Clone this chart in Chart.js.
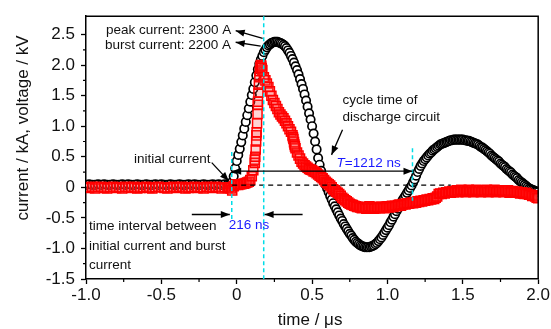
<!DOCTYPE html>
<html>
<head>
<meta charset="utf-8">
<script src="https://cdn.jsdelivr.net/npm/chart.js@4.4.0/dist/chart.umd.min.js"></script>
<style>
  html, body { margin: 0; padding: 0; background: #fff; }
  #wrap { width: 551px; height: 329px; }
</style>
</head>
<body>
<div id="wrap"><canvas id="chart" width="551" height="329"></canvas></div>
<script>
// time grid (µs): coarse on the flat pre-trigger part, fine after the trigger
function grid(start, step, n) {
  return Array.from({ length: n }, (_, i) => +(start + i * step).toFixed(3));
}
const timeBase = grid(-1.0, 0.02, 48);
const timeFine = grid(-0.05, 0.01, 206);

// discharge current / kA (black circles)
const currentBase = [
  0.04, 0.05, 0.04, 0.04, 0.05, 0.04, 0.05, 0.04, 0.04, 0.05,
  0.04, 0.04, 0.05, 0.04, 0.05, 0.04, 0.04, 0.05, 0.04, 0.04,
  0.05, 0.04, 0.04, 0.05, 0.04, 0.05, 0.04, 0.04, 0.05, 0.04,
  0.04, 0.05, 0.04, 0.04, 0.05, 0.04, 0.05, 0.04, 0.04, 0.05,
  0.04, 0.04, 0.05, 0.04, 0.05, 0.04, 0.05, 0.05,
];
const currentFine = [
  0.05, 0.06, 0.09, 0.18, 0.31, 0.43, 0.53, 0.63, 0.74, 0.85,
  0.96, 1.07, 1.18, 1.29, 1.40, 1.51, 1.61, 1.72, 1.83, 1.93,
  2.02, 2.09, 2.15, 2.21, 2.25, 2.29, 2.32, 2.34, 2.36, 2.37,
  2.38, 2.38, 2.38, 2.37, 2.36, 2.35, 2.33, 2.31, 2.28, 2.24,
  2.20, 2.15, 2.10, 2.04, 1.98, 1.92, 1.85, 1.77, 1.69, 1.61,
  1.52, 1.42, 1.32, 1.21, 1.11, 1.00, 0.88, 0.75, 0.62, 0.48,
  0.37, 0.27, 0.18, 0.10, 0.04, -0.02, -0.08, -0.14, -0.20, -0.26,
  -0.31, -0.36, -0.41, -0.46, -0.51, -0.55, -0.60, -0.64, -0.68, -0.72,
  -0.76, -0.79, -0.83, -0.86, -0.89, -0.91, -0.93, -0.95, -0.96, -0.97,
  -0.98, -0.98, -0.98, -0.98, -0.97, -0.96, -0.95, -0.93, -0.91, -0.88,
  -0.85, -0.82, -0.78, -0.74, -0.70, -0.66, -0.62, -0.57, -0.53, -0.48,
  -0.44, -0.39, -0.35, -0.30, -0.26, -0.21, -0.17, -0.13, -0.09, -0.05,
  -0.01, 0.03, 0.08, 0.13, 0.19, 0.25, 0.30, 0.35, 0.39, 0.43,
  0.46, 0.49, 0.52, 0.55, 0.57, 0.60, 0.62, 0.64, 0.66, 0.68,
  0.70, 0.71, 0.72, 0.73, 0.74, 0.75, 0.76, 0.77, 0.77, 0.78,
  0.78, 0.78, 0.78, 0.78, 0.78, 0.78, 0.77, 0.77, 0.76, 0.76,
  0.75, 0.74, 0.73, 0.72, 0.71, 0.70, 0.68, 0.66, 0.65, 0.63,
  0.61, 0.59, 0.57, 0.55, 0.52, 0.50, 0.48, 0.46, 0.44, 0.42,
  0.39, 0.37, 0.35, 0.33, 0.30, 0.28, 0.26, 0.24, 0.21, 0.19,
  0.17, 0.15, 0.12, 0.10, 0.08, 0.06, 0.04, 0.02, 0.00, -0.02,
  -0.03, -0.04, -0.05, -0.06, -0.07, -0.08,
];

// voltage / kV (red squares)
const voltageBase = [
  0.00, -0.01, 0.01, -0.02, 0.00, 0.01, -0.01, -0.02, 0.00, 0.01,
  -0.01, 0.00, -0.02, 0.01, 0.00, -0.01, 0.01, -0.02, -0.01, 0.00,
  0.01, -0.01, -0.02, 0.00, 0.01, 0.00, -0.01, -0.02, 0.00, 0.01,
  -0.01, 0.00, 0.01, -0.02, -0.01, 0.00, 0.01, -0.01, 0.00, -0.02,
  0.01, 0.00, -0.01, 0.01, 0.00, -0.02, 0.00, -0.01,
];
const voltageFine = [
  0.00, -0.02, -0.05, 0.02, 0.04, 0.05, 0.04, 0.05, 0.05, 0.06,
  0.06, 0.07, 0.08, 0.09, 0.12, 0.18, 0.28, 0.45, 0.85, 1.35,
  1.80, 2.00, 1.92, 1.80, 1.75, 1.70, 1.64, 1.57, 1.50, 1.43,
  1.38, 1.33, 1.28, 1.23, 1.19, 1.16, 1.13, 1.09, 1.05, 1.00,
  0.95, 0.91, 0.85, 0.74, 0.64, 0.57, 0.52, 0.47, 0.42, 0.39,
  0.36, 0.34, 0.32, 0.30, 0.29, 0.28, 0.26, 0.25, 0.23, 0.21,
  0.19, 0.17, 0.15, 0.12, 0.09, 0.07, 0.05, 0.03, 0.00, -0.03,
  -0.05, -0.07, -0.09, -0.11, -0.14, -0.17, -0.19, -0.21, -0.23, -0.25,
  -0.27, -0.28, -0.29, -0.30, -0.31, -0.32, -0.32, -0.33, -0.34, -0.33,
  -0.33, -0.35, -0.33, -0.31, -0.34, -0.33, -0.35, -0.34, -0.32, -0.33,
  -0.34, -0.32, -0.33, -0.34, -0.32, -0.31, -0.33, -0.32, -0.30, -0.32,
  -0.30, -0.31, -0.29, -0.28, -0.30, -0.28, -0.27, -0.28, -0.26, -0.27,
  -0.26, -0.25, -0.26, -0.24, -0.25, -0.23, -0.24, -0.22, -0.23, -0.21,
  -0.22, -0.20, -0.21, -0.19, -0.20, -0.18, -0.19, -0.17, -0.15, -0.11,
  -0.10, -0.11, -0.09, -0.10, -0.08, -0.09, -0.07, -0.09, -0.06, -0.08,
  -0.07, -0.05, -0.08, -0.06, -0.04, -0.07, -0.05, -0.08, -0.06, -0.04,
  -0.07, -0.05, -0.08, -0.06, -0.04, -0.07, -0.05, -0.08, -0.06, -0.05,
  -0.07, -0.04, -0.08, -0.06, -0.05, -0.07, -0.04, -0.08, -0.06, -0.05,
  -0.07, -0.05, -0.08, -0.06, -0.07, -0.05, -0.09, -0.07, -0.06, -0.08,
  -0.09, -0.07, -0.08, -0.10, -0.08, -0.10, -0.11, -0.09, -0.11, -0.12,
  -0.12, -0.14, -0.13, -0.15, -0.17, -0.18,
];
// extra dense samples on the steep burst edge and the step near 0.38 µs
const voltageBurstTime = [
  0.120, 0.123, 0.126, 0.129, 0.132, 0.135, 0.138, 0.141, 0.144, 0.147,
  0.153, 0.156, 0.163, 0.166, 0.373, 0.376, 0.383, 0.386,
];
const voltageBurstValue = [
  0.40, 0.50, 0.62, 0.75, 0.90, 1.05, 1.20, 1.40, 1.55, 1.68,
  1.90, 1.97, 1.99, 1.95, 0.82, 0.79, 0.70, 0.67,
];

const xTicks = [-1.0, -0.5, 0, 0.5, 1.0, 1.5, 2.0];
const xMinor = [-0.75, -0.25, 0.25, 0.75, 1.25, 1.75];
const yTicks = [-1.5, -1.0, -0.5, 0, 0.5, 1.0, 1.5, 2.0, 2.5];
const yMinor = [-1.25, -0.75, -0.25, 0.25, 0.75, 1.25, 1.75, 2.25];

const zip = (t, v) => t.map((x, i) => ({ x, y: v[i] }));
const currentPts = zip(timeBase, currentBase).concat(zip(timeFine, currentFine));
const voltagePts = zip(timeBase, voltageBase)
  .concat(zip(timeFine, voltageFine))
  .concat(zip(voltageBurstTime, voltageBurstValue));

const FONT = "'Liberation Sans', Arial, sans-serif";
const fmtTick = (v) => (v === 0 ? "0" : v.toFixed(1));

function arrowHead(ctx, x1, y1, x2, y2) {
  const a = Math.atan2(y2 - y1, x2 - x1), len = 9, half = 3.5;
  ctx.beginPath();
  ctx.moveTo(x2, y2);
  ctx.lineTo(x2 - len * Math.cos(a) + half * Math.sin(a), y2 - len * Math.sin(a) - half * Math.cos(a));
  ctx.lineTo(x2 - len * Math.cos(a) - half * Math.sin(a), y2 - len * Math.sin(a) + half * Math.cos(a));
  ctx.closePath();
  ctx.fill();
}
function arrow(ctx, x1, y1, x2, y2) {
  ctx.beginPath();
  ctx.moveTo(x1, y1);
  ctx.lineTo(x2, y2);
  ctx.stroke();
  arrowHead(ctx, x1, y1, x2, y2);
}

const overlay = {
  id: "overlay",
  afterDatasetsDraw(chart) {
    const { ctx, chartArea: a, scales: { x, y } } = chart;
    const px = (t) => x.getPixelForValue(t);
    const py = (v) => y.getPixelForValue(v);
    ctx.save();

    // frame top/right
    ctx.strokeStyle = "#000";
    ctx.lineWidth = 1.5;
    ctx.beginPath();
    ctx.moveTo(a.left, a.top);
    ctx.lineTo(a.right, a.top);
    ctx.lineTo(a.right, a.bottom);
    ctx.stroke();

    // minor ticks
    ctx.lineWidth = 1.2;
    ctx.beginPath();
    xMinor.forEach((t) => { ctx.moveTo(px(t), a.bottom); ctx.lineTo(px(t), a.bottom + 3); });
    yMinor.forEach((v) => { ctx.moveTo(a.left, py(v)); ctx.lineTo(a.left - 3, py(v)); });
    ctx.stroke();

    // dashed zero reference
    ctx.setLineDash([5, 4]);
    ctx.lineWidth = 1.3;
    ctx.beginPath();
    ctx.moveTo(px(-0.03), py(0.035));
    ctx.lineTo(px(1.42), py(0.035));
    ctx.stroke();

    // cyan markers
    ctx.strokeStyle = "#00dde8";
    ctx.lineWidth = 1.5;
    ctx.setLineDash([4, 3]);
    ctx.beginPath();
    ctx.moveTo(px(-0.033), py(0.58)); ctx.lineTo(px(-0.033), py(-0.53));
    ctx.moveTo(px(0.179), a.top); ctx.lineTo(px(0.179), a.bottom);
    ctx.moveTo(px(1.166), py(0.64)); ctx.lineTo(px(1.166), py(-0.22));
    ctx.stroke();
    ctx.setLineDash([]);

    // arrows
    ctx.strokeStyle = "#000";
    ctx.fillStyle = "#000";
    ctx.lineWidth = 1.3;
    arrow(ctx, px(0.172), py(2.437), px(-0.007), py(2.563));
    arrow(ctx, px(0.159), py(2.311), px(-0.007), py(2.374));
    arrow(ctx, px(-0.166), py(0.405), px(-0.053), py(0.106));
    arrow(ctx, px(0.702), py(0.941), px(0.629), py(0.531));
    arrow(ctx, px(-0.298), py(-0.445), px(-0.046), py(-0.445));
    arrow(ctx, px(0.437), py(-0.445), px(0.185), py(-0.445));
    // double arrow for the cycle time
    ctx.beginPath();
    ctx.moveTo(px(-0.03), py(0.264));
    ctx.lineTo(px(1.166), py(0.264));
    ctx.stroke();
    arrowHead(ctx, px(0.5), py(0.264), px(-0.03), py(0.264));
    arrowHead(ctx, px(0.5), py(0.264), px(1.166), py(0.264));

    // texts
    ctx.font = "13.5px " + FONT;
    ctx.fillStyle = "#111";
    ctx.textBaseline = "alphabetic";
    ctx.textAlign = "left";
    ctx.fillText("peak current: 2300 A", px(-0.868), py(2.516));
    ctx.fillText("burst current: 2200 A", px(-0.874), py(2.264));
    ctx.fillText("initial current", px(-0.682), py(0.405));
    ctx.fillText("cycle time of", px(0.702), py(1.366));
    ctx.fillText("discharge circuit", px(0.702), py(1.083));
    ctx.fillText("time interval between", px(-0.98), py(-0.697));
    ctx.fillText("initial current and burst", px(-0.98), py(-1.028));
    ctx.fillText("current", px(-0.98), py(-1.343));

    ctx.fillStyle = "#1a1aff";
    ctx.fillText("216 ns", px(-0.053), py(-0.681));
    ctx.font = "italic 13.5px " + FONT;
    const tx = px(0.662), ty = py(0.327);
    ctx.fillText("T", tx, ty);
    const tw = ctx.measureText("T").width;
    ctx.font = "13.5px " + FONT;
    ctx.fillText("=1212 ns", tx + tw, ty);

    // axis titles
    ctx.fillStyle = "#111";
    ctx.font = "17px " + FONT;
    ctx.textAlign = "center";
    ctx.fillText("time / \u03bcs", (a.left + a.right) / 2 - 2, 325);
    ctx.translate(28, 128);
    ctx.rotate(-Math.PI / 2);
    ctx.fillText("current / kA, voltage / kV", 0, 0);
    ctx.restore();
  },
};

const axisCommon = {
  type: "linear",
  border: { display: true, color: "#000", width: 1.5 },
  grid: { drawOnChartArea: false, drawTicks: true, tickLength: 5, tickColor: "#000", tickWidth: 1.3 },
  ticks: { color: "#111", font: { family: FONT, size: 17 }, callback: fmtTick, autoSkip: false, maxRotation: 0, includeBounds: false },
};

new Chart(document.getElementById("chart"), {
  type: "scatter",
  data: {
    datasets: [
      {
        label: "voltage",
        data: voltagePts,
        pointStyle: "rect",
        pointRadius: 6.4,
        borderColor: "#ff0000",
        backgroundColor: "rgba(255,60,60,0.22)",
        borderWidth: 1.5,
      },
      {
        label: "current",
        data: currentPts,
        pointStyle: "circle",
        pointRadius: 4.2,
        borderColor: "#000",
        backgroundColor: "#fff",
        borderWidth: 1.7,
      },
    ],
  },
  options: {
    responsive: false,
    animation: false,
    events: [],
    layout: { padding: { top: 6, right: 12, left: 0, bottom: 0 } },
    plugins: { legend: { display: false }, tooltip: { enabled: false } },
    scales: {
      x: {
        ...axisCommon,
        min: -1.0,
        max: 2.0,
        ticks: { ...axisCommon.ticks, padding: 1 },
        afterBuildTicks: (s) => { s.ticks = xTicks.map((value) => ({ value })); },
        afterFit: (s) => { s.height = 50; },
      },
      y: {
        ...axisCommon,
        min: -1.5,
        max: 2.8,
        ticks: { ...axisCommon.ticks, padding: 6 },
        afterBuildTicks: (s) => { s.ticks = yTicks.map((value) => ({ value })); },
        afterFit: (s) => { s.width = 86; },
      },
    },
  },
  plugins: [overlay],
});
</script>
</body>
</html>
